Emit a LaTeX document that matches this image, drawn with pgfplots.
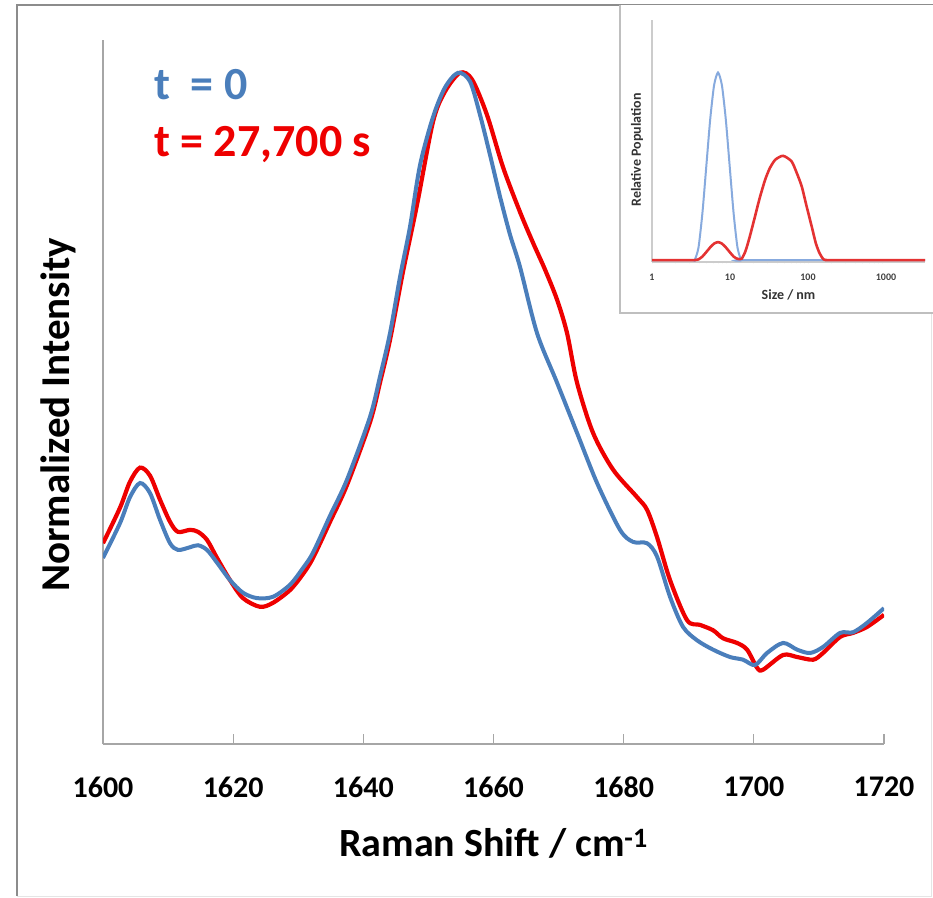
\documentclass[border=0pt]{standalone}
\usepackage{fontspec}
\setmainfont{Carlito}
\usepackage{pgfplots}
\usepackage{pgfplotstable}
\pgfplotsset{compat=1.18}

\definecolor{specblue}{RGB}{74,126,187}
\definecolor{specred}{RGB}{238,0,0}
\definecolor{dlsblue}{RGB}{135,170,222}
\definecolor{dlsred}{RGB}{228,50,50}
\definecolor{axisgray}{RGB}{166,166,166}
\definecolor{framegray}{RGB}{140,140,140}

% Raman spectra, amide I region (normalized to the band maximum)
\pgfplotstableread{
x y
1600.00 0.275
1602.61 0.327
1604.15 0.366
1605.69 0.387
1607.22 0.372
1608.76 0.332
1610.30 0.297
1611.52 0.287
1613.37 0.291
1614.60 0.294
1615.98 0.287
1617.52 0.268
1619.51 0.242
1621.51 0.223
1623.66 0.215
1626.12 0.217
1628.73 0.235
1630.73 0.260
1632.27 0.283
1634.88 0.338
1637.49 0.392
1641.03 0.486
1642.56 0.546
1644.10 0.611
1645.64 0.695
1647.17 0.770
1648.71 0.862
1650.71 0.934
1652.55 0.978
1654.55 1.000
1656.39 0.987
1657.93 0.937
1659.47 0.877
1661.00 0.815
1662.54 0.758
1664.07 0.710
1666.69 0.611
1669.76 0.537
1672.83 0.462
1675.91 0.387
1679.44 0.317
1681.44 0.299
1683.59 0.297
1685.13 0.277
1687.12 0.217
1689.12 0.172
1691.27 0.152
1693.73 0.138
1696.34 0.127
1698.34 0.123
1700.18 0.115
1702.03 0.133
1704.49 0.148
1706.64 0.138
1708.64 0.133
1710.63 0.142
1713.25 0.163
1715.24 0.164
1717.39 0.178
1720.00 0.200
}\ramanA

\pgfplotstableread{
x y
1600.00 0.297
1602.61 0.350
1604.15 0.389
1605.69 0.410
1607.22 0.398
1608.76 0.362
1610.30 0.329
1611.52 0.314
1613.37 0.317
1614.60 0.314
1615.98 0.302
1617.52 0.275
1619.51 0.242
1621.51 0.215
1624.12 0.202
1626.12 0.208
1628.73 0.227
1630.73 0.251
1632.27 0.275
1634.88 0.329
1637.49 0.384
1641.03 0.478
1642.56 0.537
1644.10 0.601
1646.10 0.703
1648.25 0.803
1650.71 0.927
1652.55 0.972
1654.86 1.000
1656.70 0.990
1659.00 0.937
1661.46 0.859
1664.07 0.792
1666.07 0.746
1667.91 0.706
1669.76 0.661
1671.30 0.611
1672.83 0.537
1675.29 0.462
1678.37 0.407
1682.05 0.366
1683.59 0.347
1685.13 0.306
1687.12 0.242
1689.74 0.182
1691.73 0.175
1693.73 0.167
1695.27 0.155
1697.42 0.148
1698.96 0.138
1700.49 0.111
1701.41 0.108
1704.49 0.130
1706.64 0.127
1709.10 0.123
1710.63 0.133
1713.25 0.157
1715.24 0.163
1717.39 0.172
1720.00 0.190
}\ramanB

% DLS size distributions
\pgfplotstableread{
d p
1 0
3.20 0
3.516 0
3.945 0.067
4.426 0.250
4.966 0.500
5.572 0.750
6.252 0.933
7.015 1.000
7.870 0.933
8.831 0.750
9.908 0.500
11.12 0.250
12.47 0.067
13.99 0
15.85 0
3162 0
}\dlsA

\pgfplotstableread{
d p
1 0
3.20 0
3.516 0
3.945 0.004
4.426 0.019
4.966 0.043
5.572 0.068
6.252 0.088
7.015 0.096
7.870 0.088
8.831 0.068
9.908 0.043
11.12 0.019
12.47 0.007
14.13 0.008
15.85 0.050
17.78 0.120
20.89 0.232
23.99 0.330
28.18 0.428
32.36 0.490
38.02 0.535
47.86 0.556
61.66 0.526
72.44 0.460
83.18 0.392
95.50 0.290
112.2 0.175
125.9 0.090
141.3 0.035
158.5 0.004
177.8 0
200 0
3162 0
}\dlsB

\begin{document}
\begin{tikzpicture}[x=1pt,y=1pt]
\useasboundingbox (0,0) rectangle (933,897);
% frame round the figure
\draw[black!10, line width=1pt] (931,892) -- (931,1) -- (17,1);
\draw[framegray, line width=2.5pt] (17,1) -- (17,892) -- (933,892);

\begin{axis}[
  at={(103pt,153pt)}, anchor=south west,
  scale only axis, width=781pt, height=704pt,
  xmin=1600, xmax=1720, ymin=-0.003, ymax=1.049,
  axis x line=bottom, axis y line=left,
  axis line style={-, draw=axisgray, line width=1.8pt},
  xtick={1600,1620,...,1720}, ytick=\empty,
  tick align=inside, major tick length=10pt,
  tick style={draw=axisgray, line width=1.2pt},
  /pgf/number format/assume math mode=true,
  /pgf/number format/1000 sep={},
  xticklabel style={font=\bfseries\fontsize{30}{36}\selectfont, inner sep=0pt, anchor=center, yshift=-43pt},
  xlabel={Raman Shift / cm\textsuperscript{-1}},
  xlabel style={font=\bfseries\fontsize{40}{48}\selectfont, at={(axis description cs:0.5,0)}, anchor=center, yshift=-99pt},
  ylabel={Normalized Intensity},
  ylabel style={font=\bfseries\fontsize{41}{49}\selectfont, at={(axis description cs:-0.0576,0.4673)}, anchor=center},
]
\addplot[specred, line width=4.2pt, smooth, tension=0.5] table[x=x,y=y] {\ramanB};
\addplot[specblue, line width=4pt, smooth, tension=0.5] table[x=x,y=y] {\ramanA};
\end{axis}

% series labels
\node[anchor=base west, inner sep=0pt, text=specblue, font=\bfseries\fontsize{46}{54}\selectfont] at (154,797) {t\ \ = 0};
\node[anchor=base west, inner sep=0pt, text=specred, font=\bfseries\fontsize{46}{54}\selectfont] at (154,740) {t = 27,700 s};

% inset: size distribution
\fill[white] (620,584) rectangle (933,892);
\draw[black!25, line width=1.5pt] (620,892) -- (620,584) -- (933,584);
\begin{axis}[
  at={(652pt,635pt)}, anchor=south west,
  scale only axis, width=273pt, height=242pt,
  xmode=log, xmin=1, xmax=3162, ymin=-0.01, ymax=1.28,
  axis x line=bottom, axis y line=left,
  axis line style={-, draw=black!20, line width=1.2pt},
  xtick={1,10,100,1000}, xticklabels={1,10,100,1000}, ytick=\empty,
  major tick length=0pt,
  xticklabel style={font=\bfseries\fontsize{10}{12}\selectfont, text=black!75, inner sep=0pt, anchor=center, yshift=-15pt},
  xlabel={Size / nm},
  xlabel style={font=\bfseries\fontsize{14}{17}\selectfont, text=black!80, at={(axis description cs:0.5,0)}, anchor=center, yshift=-33pt},
  ylabel={Relative Population},
  ylabel style={font=\bfseries\fontsize{14}{17}\selectfont, text=black!80, at={(axis description cs:-0.055,0.463)}, anchor=center},
]
\addplot[dlsblue, line width=2pt, smooth, tension=0.4] table[x=d,y=p] {\dlsA};
\addplot[dlsred, line width=2.6pt, smooth, tension=0.4] table[x=d,y=p] {\dlsB};
\end{axis}
\end{tikzpicture}
\end{document}
